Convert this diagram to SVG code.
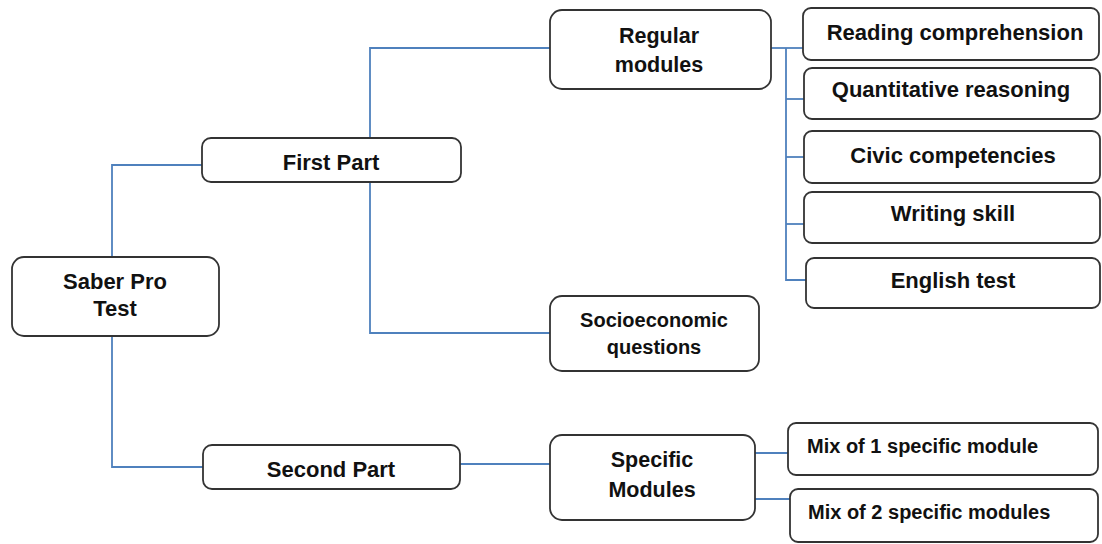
<svg xmlns="http://www.w3.org/2000/svg" width="1102" height="544" viewBox="0 0 1102 544">
<style>
.box{fill:#fff;stroke:#333;stroke-width:1.8}
.t{font-family:"Liberation Sans",Arial,sans-serif;font-weight:bold;font-size:22px;fill:#111;text-anchor:middle}
.s{font-size:20px}
.m{font-size:21.5px}
.l{text-anchor:start}
.c{fill:none;stroke:#4f81bd;stroke-width:1.8}
</style>
<rect width="1102" height="544" fill="#fff"/>
<g id="connectors">
<path class="c" d="M112,257 V165 H202"/>
<path class="c" d="M112,336 V467 H203"/>
<path class="c" d="M370,138 V48 H550"/>
<path class="c" d="M370,182 V333 H550"/>
<path class="c" d="M460,464 H550"/>
<path class="c" d="M771,48 H803"/>
<path class="c" d="M786,48 V280 H806"/>
<path class="c" d="M786,99 H804"/>
<path class="c" d="M786,157 H804"/>
<path class="c" d="M786,224 H804"/>
<path class="c" d="M755,453 H788"/>
<path class="c" d="M753,499 H790"/>
</g>
<g id="saber">
<rect class="box" x="12" y="257" width="207" height="79" rx="12"/>
<text class="t" x="115" y="289">Saber Pro</text>
<text class="t" x="115" y="316">Test</text>
</g>
<g id="first-part">
<rect class="box" x="202" y="138" width="259" height="44" rx="9"/>
<text class="t" x="331" y="170">First Part</text>
</g>
<g id="second-part">
<rect class="box" x="203" y="445" width="257" height="44" rx="9"/>
<text class="t" x="331" y="477">Second Part</text>
</g>
<g id="regular">
<rect class="box" x="550" y="10" width="221" height="79" rx="12"/>
<text class="t m" x="659" y="43">Regular</text>
<text class="t m" x="659" y="72">modules</text>
</g>
<g id="socio">
<rect class="box" x="550" y="296" width="209" height="75" rx="12"/>
<text class="t s" x="654" y="327">Socioeconomic</text>
<text class="t s" x="654" y="354">questions</text>
</g>
<g id="specific">
<rect class="box" x="550" y="435" width="205" height="85" rx="12"/>
<text class="t m" x="652" y="467">Specific</text>
<text class="t m" x="652" y="497">Modules</text>
</g>
<g id="reading">
<rect class="box" x="803" y="8" width="296" height="52" rx="8"/>
<text class="t" x="955" y="40">Reading comprehension</text>
</g>
<g id="quant">
<rect class="box" x="804" y="68" width="296" height="51" rx="8"/>
<text class="t" x="951" y="97">Quantitative reasoning</text>
</g>
<g id="civic">
<rect class="box" x="804" y="131" width="296" height="52" rx="8"/>
<text class="t" x="953" y="163">Civic competencies</text>
</g>
<g id="writing">
<rect class="box" x="804" y="192" width="296" height="51" rx="8"/>
<text class="t" x="953" y="221">Writing skill</text>
</g>
<g id="english">
<rect class="box" x="806" y="258" width="294" height="50" rx="8"/>
<text class="t" x="953" y="288">English test</text>
</g>
<g id="mix1">
<rect class="box" x="788" y="423" width="310" height="52" rx="8"/>
<text class="t s l" x="807" y="453">Mix of 1 specific module</text>
</g>
<g id="mix2">
<rect class="box" x="790" y="489" width="308" height="53" rx="8"/>
<text class="t s l" x="808" y="519">Mix of 2 specific modules</text>
</g>
</svg>
